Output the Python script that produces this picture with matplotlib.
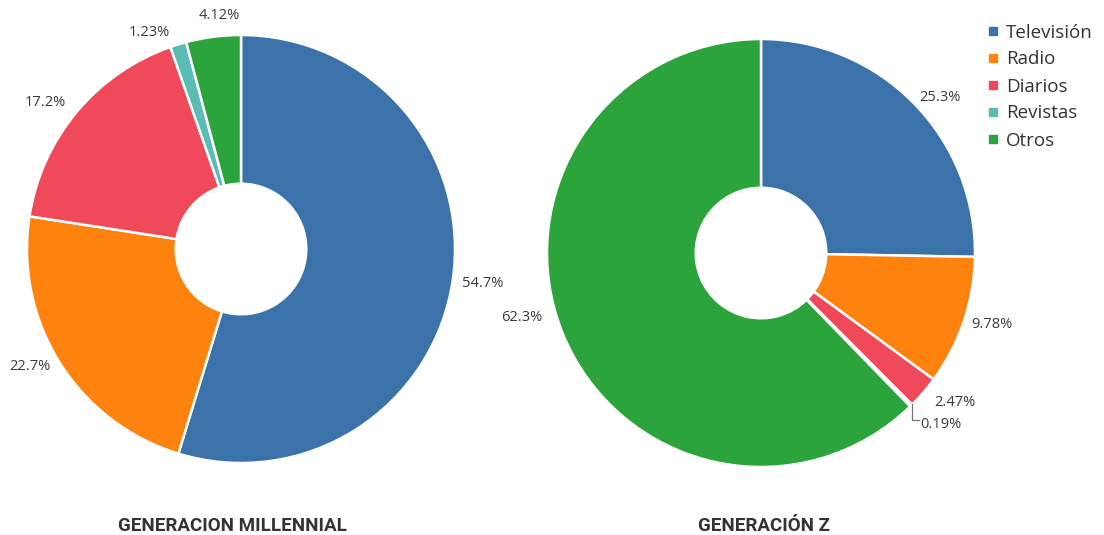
import numpy as np
import matplotlib
matplotlib.use("Agg")
import matplotlib.pyplot as plt
from matplotlib.lines import Line2D

plt.rcParams["font.family"] = ["Open Sans", "DejaVu Sans"]

# data
categories = ["Televisión", "Radio", "Diarios", "Revistas", "Otros"]
millennial_values = [54.7, 22.7, 17.2, 1.23, 4.12]
genz_values = [25.3, 9.78, 2.47, 0.19, 62.3]
millennial_labels = ["54.7%", "22.7%", "17.2%", "1.23%", "4.12%"]
genz_labels = ["25.3%", "9.78%", "2.47%", "0.19%", "62.3%"]
titles = ["GENERACION MILLENNIAL", "GENERACIÓN Z"]

colors = ["#3b72aa", "#fd820e", "#f0495a", "#5bbcb3", "#2ca43c"]
text_color = "#3a3a3a"

W, H = 1104, 535
fig = plt.figure(figsize=(W / 100, H / 100), dpi=100)

R_PX = 214
LIM = 1.3


def make_axes(cx, cy):
    size = 2 * LIM * R_PX
    ax = fig.add_axes([(cx - size / 2) / W, (H - cy - size / 2) / H, size / W, size / H])
    return ax


def draw_donut(ax, values, labels, nudges, radii, skip=()):
    wedges, _ = ax.pie(values, colors=colors, startangle=90, counterclock=False,
                       radius=1.0, normalize=True,
                       wedgeprops=dict(width=0.695, edgecolor="white", linewidth=1.8))
    # pie() resets the limits, so put ours back afterwards
    ax.set_xlim(-LIM, LIM)
    ax.set_ylim(-LIM, LIM)
    ax.axis("off")
    for i, w in enumerate(wedges):
        if i in skip:
            continue
        ang = np.deg2rad((w.theta1 + w.theta2) / 2 + nudges[i])
        ax.text(radii[i] * np.cos(ang), radii[i] * np.sin(ang), labels[i],
                ha="center", va="center", fontsize=10.5, color=text_color, clip_on=False)
    return wedges


# left donut
ax1 = make_axes(241, 249)
draw_donut(ax1, millennial_values, millennial_labels,
           nudges=[0.5, -3, 3, 6, -2], radii=[1.142, 1.127, 1.143, 1.099, 1.095])

# right donut
ax2 = make_axes(761, 253)
w2 = draw_donut(ax2, genz_values, genz_labels,
                nudges=[-3.5, 1.5, 3, 0, -7], radii=[1.107, 1.131, 1.146, 1.0, 1.156],
                skip=(3,))

# tiny slice label with a leader line
ang = np.deg2rad(-45)
x0, y0 = np.cos(ang), np.sin(ang)
ytxt = -0.80
ax2.plot([x0, x0, x0 + 0.03], [y0, ytxt + 0.02, ytxt + 0.02], color="#777777", lw=0.9,
         clip_on=False)
ax2.text(x0 + 0.035, ytxt, genz_labels[3], ha="left", va="center", fontsize=10.5,
         color=text_color, clip_on=False)

# titles
fig.text(232 / W, 1 - 526 / H, titles[0], ha="center", va="center", fontsize=13.5,
         fontweight="bold", color="#333333", family=["Roboto", "DejaVu Sans"])
fig.text(764 / W, 1 - 526 / H, titles[1], ha="center", va="center", fontsize=13.5,
         fontweight="bold", color="#333333", family=["Roboto", "DejaVu Sans"])

# legend
handles = [Line2D([0], [0], marker="s", linestyle="none", markersize=6,
                  markerfacecolor=c, markeredgecolor=c) for c in colors]
fig.legend(handles, categories, loc="upper left", bbox_to_anchor=(976 / W, 1 - 16 / H),
           frameon=False, fontsize=13.5, labelspacing=0.48, handletextpad=0.2,
           handlelength=1.0, borderaxespad=0, labelcolor="#333333")

fig.savefig("out.png", dpi=100)
